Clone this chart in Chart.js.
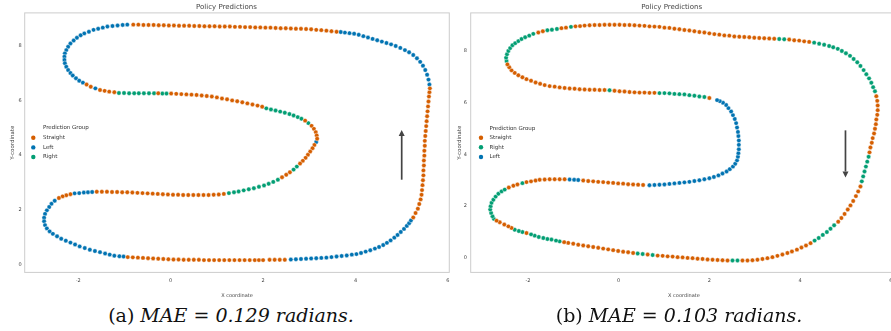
<!DOCTYPE html>
<html>
<head>
<meta charset="utf-8">
<script src="https://cdn.jsdelivr.net/npm/chart.js@4.4.1/dist/chart.umd.min.js"></script>
<style>
  body { margin: 0; width: 891px; height: 331px; overflow: hidden; background: #fff; position: relative; }
  .box { position: absolute; top: 0; width: 455px; height: 300px; }
  .cap { position: absolute; top: 305px; text-align: center; font-family: "DejaVu Serif", serif; font-size: 19px; line-height: 21px; color: #111; }
  .cap i { font-style: italic; }
</style>
</head>
<body>
<div class="box" style="left:0"><canvas id="chartA" width="455" height="300"></canvas></div>
<div class="box" style="left:445px"><canvas id="chartB" width="455" height="300"></canvas></div>
<div class="cap" style="left:0;width:462px">(a) <i>MAE = 0.129 radians.</i></div>
<div class="cap" style="left:467px;width:424px">(b) <i>MAE = 0.103 radians.</i></div>
<script>
// tick labels
const ticksX = [-2, 0, 2, 4, 6];
const ticksY = [0, 2, 4, 6, 8];

// legend order of each panel
const groupsA = ["Straight", "Left", "Right"];
const groupsB = ["Straight", "Right", "Left"];

// arrow: x, y of tail, y of tip (data units)
const arrowA = [5, 3.1, 4.92];
const arrowB = [5, 4.93, 3.11];

// ---- panel (a): points ----
const straightA = [
  [-0.93,0.27],[-0.82,0.26],[-0.71,0.25],[-0.60,0.24],[-0.49,0.23],[-0.38,0.22],[-0.27,0.21],[-0.16,0.20],[-0.05,0.19],[0.06,0.18],
  [0.17,0.18],[0.28,0.17],[0.39,0.17],[0.50,0.17],[0.61,0.17],[0.72,0.16],[0.83,0.16],[0.94,0.16],[1.05,0.16],[1.16,0.16],
  [1.27,0.16],[1.38,0.16],[1.49,0.16],[1.60,0.16],[1.71,0.16],[1.82,0.16],[1.91,0.16],[2.00,0.16],[2.14,0.17],[2.25,0.17],
  [2.36,0.17],[2.47,0.17],
  [5.25,1.72],[5.30,1.88],[5.35,2.04],[5.38,2.21],[5.41,2.38],[5.43,2.55],[5.44,2.72],[5.45,2.90],[5.46,3.08],[5.47,3.26],
  [5.47,3.44],[5.48,3.62],[5.48,3.80],[5.49,3.98],[5.49,4.16],[5.50,4.34],[5.50,4.52],[5.51,4.70],[5.52,4.88],[5.53,5.06],
  [5.54,5.24],[5.55,5.42],[5.56,5.60],[5.57,5.78],[5.58,5.96],[5.59,6.14],[5.60,6.30],[5.61,6.44],
  [3.59,8.51],[3.48,8.53],[3.37,8.55],[3.26,8.57],[3.15,8.58],[3.04,8.60],[2.93,8.61],[2.82,8.62],[2.71,8.62],[2.60,8.63],
  [2.49,8.64],[2.38,8.64],[2.27,8.65],[2.16,8.66],[2.05,8.66],[1.94,8.67],[1.83,8.67],[1.72,8.68],[1.61,8.68],[1.50,8.69],
  [1.39,8.69],[1.28,8.70],[1.17,8.70],[1.06,8.70],[0.95,8.71],[0.84,8.71],[0.73,8.71],[0.62,8.72],[0.51,8.72],[0.40,8.73],
  [0.29,8.73],[0.18,8.73],[0.07,8.74],[-0.04,8.74],[-0.15,8.75],[-0.26,8.75],[-0.37,8.76],[-0.48,8.76],[-0.59,8.76],[-0.70,8.77],
  [-0.81,8.77],
  [-1.82,6.58],[-1.73,6.50],
  [-1.53,6.38],[-1.43,6.35],[-1.33,6.32],[-1.22,6.30],[-0.27,6.26],
  [0.01,6.25],[0.12,6.24],[0.23,6.23],[0.34,6.22],[0.45,6.21],[0.56,6.20],[0.67,6.18],[0.78,6.16],[0.89,6.14],[1.00,6.11],
  [1.11,6.07],[1.22,6.04],[1.33,6.00],[1.44,5.97],[1.55,5.93],[1.66,5.89],[1.77,5.85],[1.88,5.81],[1.98,5.77],
  [2.91,5.26],[3.05,5.07],[3.10,4.96],[3.14,4.84],[3.16,4.72],[3.17,4.60],
  [3.11,4.37],[3.07,4.25],[3.02,4.13],[2.97,4.01],[2.92,3.90],[2.86,3.79],[2.80,3.69],
  [2.58,3.37],[2.50,3.28],[2.41,3.19],
  [1.15,2.58],[1.04,2.56],[0.93,2.55],[0.82,2.54],[0.71,2.54],[0.60,2.54],[0.49,2.54],[0.38,2.54],[0.27,2.54],[0.16,2.55],
  [0.05,2.55],[-0.06,2.56],[-0.17,2.57],[-0.28,2.58],[-0.39,2.59],[-0.50,2.60],[-0.61,2.61],[-0.72,2.62],[-0.83,2.63],[-0.94,2.64],
  [-1.05,2.64],[-1.16,2.65],[-1.27,2.65],[-1.38,2.66],[-1.49,2.66],[-1.60,2.66],
  [-2.17,2.57],[-2.26,2.53],[-2.34,2.49],[-2.42,2.43]
];
const leftA = [
  [-2.51,2.33],[-2.58,2.22],[-2.63,2.10],[-2.68,1.98],[-2.72,1.85],[-2.74,1.71],[-2.74,1.58],[-2.72,1.44],[-2.68,1.32],[-2.62,1.21],
  [-2.55,1.12],[-2.46,1.03],[-2.37,0.94],[-2.27,0.87],[-2.17,0.80],[-2.07,0.73],[-1.97,0.66],[-1.86,0.60],[-1.75,0.54],[-1.64,0.49],
  [-1.53,0.45],[-1.42,0.40],[-1.32,0.36],[-1.22,0.32],[-1.11,0.30],[-1.02,0.29],
  [-2.08,2.60],[-1.98,2.61],[-1.88,2.63],[-1.79,2.64],[-1.70,2.65],
  [3.15,4.48],
  [2.60,0.18],[2.71,0.19],[2.82,0.20],[2.93,0.21],[3.04,0.22],[3.15,0.23],[3.26,0.24],[3.37,0.25],[3.48,0.27],[3.59,0.29],
  [3.70,0.31],[3.81,0.33],[3.92,0.36],[4.02,0.38],[4.12,0.42],[4.22,0.47],[4.32,0.52],[4.42,0.58],[4.51,0.64],[4.60,0.71],
  [4.68,0.79],[4.76,0.88],[4.84,0.98],[4.91,1.08],[4.98,1.19],[5.05,1.30],[5.11,1.41],[5.16,1.51],[5.20,1.61],
  [5.60,6.58],[5.58,6.76],[5.55,6.94],[5.51,7.11],[5.46,7.27],[5.40,7.41],[5.33,7.54],[5.25,7.66],[5.16,7.76],[5.07,7.84],
  [4.97,7.92],[4.87,7.99],[4.77,8.05],[4.67,8.10],[4.57,8.15],[4.47,8.20],[4.37,8.25],[4.27,8.30],[4.17,8.35],[4.07,8.40],
  [3.97,8.44],[3.87,8.46],[3.77,8.48],[3.68,8.50],
  [-0.94,8.77],[-1.04,8.76],[-1.15,8.74],[-1.26,8.72],[-1.37,8.70],[-1.47,8.66],[-1.57,8.62],[-1.67,8.58],[-1.77,8.51],[-1.87,8.45],
  [-1.95,8.38],[-2.03,8.29],[-2.10,8.19],[-2.17,8.08],[-2.22,7.96],[-2.26,7.84],[-2.29,7.72],[-2.30,7.60],[-2.30,7.48],[-2.29,7.36],
  [-2.26,7.23],[-2.22,7.11],[-2.17,7.00],[-2.12,6.91],[-2.05,6.81],[-1.98,6.72],[-1.90,6.65],[-1.63,6.44]
];
const rightA = [
  [-1.12,6.27],[-1.01,6.27],[-0.90,6.26],[-0.79,6.26],[-0.69,6.26],[-0.58,6.26],[-0.47,6.26],[-0.36,6.26],[-0.18,6.25],[-0.09,6.25],
  [2.07,5.71],[2.17,5.67],[2.27,5.63],[2.37,5.59],[2.47,5.55],[2.57,5.50],[2.66,5.45],[2.75,5.39],[2.83,5.33],[2.98,5.17],
  [2.73,3.58],[2.66,3.47],
  [2.32,3.10],[2.22,3.02],[2.12,2.95],[2.02,2.89],[1.91,2.84],[1.80,2.79],[1.69,2.75],[1.58,2.71],[1.47,2.67],[1.37,2.64],
  [1.26,2.61]
];

// ---- panel (b) ----
const straightB = [
  [2.00,6.18],[0.79,6.38],[0.68,6.38],[0.57,6.39],[0.46,6.39],[0.35,6.40],[0.24,6.41],[0.13,6.43],[0.02,6.44],[-0.09,6.46],
  [-0.31,6.49],[-0.42,6.49],[-0.53,6.50],[-0.64,6.50],[-0.75,6.51],[-0.86,6.52],[-0.97,6.54],[-1.08,6.55],[-1.19,6.57],[-1.30,6.59],
  [-1.41,6.62],[-1.52,6.64],[-1.63,6.68],[-1.73,6.73],[-1.83,6.78],[-1.93,6.85],[-2.03,6.91],[-2.12,6.98],[-2.21,7.06],[-2.29,7.15],
  [-2.36,7.25],[-2.41,7.37],[-2.45,7.48],
  [-1.77,8.71],[-1.67,8.76],[-1.26,8.88],[-1.16,8.90],
  [-0.95,8.95],[-0.85,8.96],[-0.75,8.98],[-0.64,8.99],[-0.53,9.00],[-0.42,9.00],[-0.31,9.01],[-0.20,9.01],[-0.09,9.01],[0.02,9.01],
  [0.13,9.00],[0.24,9.00],[0.35,8.99],[0.46,8.98],[0.57,8.97],[0.68,8.95],[0.79,8.94],[0.90,8.93],[1.01,8.90],[1.12,8.89],
  [1.23,8.86],[1.34,8.84],[1.45,8.81],[1.56,8.79],[1.67,8.76],[1.78,8.73],[1.89,8.71],[2.00,8.68],[2.11,8.65],[2.22,8.63],
  [2.33,8.60],[2.44,8.59],[2.55,8.56],[2.66,8.55],[2.77,8.54],[2.88,8.53],[2.99,8.51],[3.10,8.50],[3.21,8.49],[3.32,8.48],
  [3.43,8.47],[3.76,8.44],[3.87,8.41],[3.98,8.40],[4.09,8.37],[4.20,8.35],
  [5.68,6.25],[5.70,6.07],[5.71,5.89],[5.71,5.71],[5.70,5.53],[5.68,5.35],[5.67,5.17],[5.65,4.99],[5.63,4.81],[5.60,4.63],
  [5.58,4.45],[5.55,4.27],[5.53,4.08],
  [5.33,2.76],[5.28,2.57],[5.23,2.39],[5.17,2.20],[5.11,2.03],[5.05,1.87],[4.98,1.70],[4.91,1.54],[4.84,1.40],
  [4.23,0.57],[4.13,0.48],[4.03,0.40],[3.93,0.32],[3.82,0.25],[3.72,0.19],[3.61,0.13],[3.50,0.08],[3.39,0.03],[3.28,-0.01],
  [3.17,-0.04],[3.06,-0.07],[2.95,-0.09],[2.84,-0.10],[2.73,-0.10],
  [2.40,-0.10],[2.29,-0.09],[2.18,-0.08],[2.07,-0.07],[1.96,-0.06],[1.85,-0.04],[1.74,-0.03],[1.63,-0.01],[1.52,0.00],[1.41,0.02],
  [1.30,0.03],[1.19,0.05],[1.08,0.06],[0.97,0.08],[0.86,0.09],[0.64,0.13],
  [0.32,0.19],[0.21,0.22],[0.10,0.24],[-0.01,0.27],[-0.12,0.30],[-0.23,0.33],[-0.34,0.36],[-0.45,0.39],[-0.56,0.42],[-0.67,0.45],
  [-0.78,0.48],[-0.89,0.51],[-1.00,0.55],[-1.11,0.58],[-1.20,0.61],
  [-2.03,0.96],[-2.36,1.16],[-2.43,1.22],[-2.52,1.29],[-2.62,1.38],[-2.69,1.44],
  [-2.42,2.72],[-2.32,2.79],[-2.23,2.84],
  [-2.03,2.93],[-1.93,2.96],[-1.83,2.99],[-1.74,3.02],[-1.63,3.03],[-1.52,3.04],[-1.41,3.04],[-1.30,3.04],[-1.19,3.04],
  [-0.78,2.99],[-0.67,2.97],[-0.56,2.96],[-0.45,2.94],[-0.34,2.93],[-0.23,2.91],[-0.12,2.90],[-0.01,2.88],[0.10,2.87],[0.21,2.85],
  [0.32,2.84],[0.43,2.83],[0.54,2.82]
];
const rightB = [
  [1.89,6.22],[1.78,6.24],[1.67,6.27],[1.56,6.29],[1.45,6.32],[1.34,6.33],[1.23,6.34],[1.12,6.36],[1.01,6.37],[0.90,6.37],
  [-0.20,6.48],
  [-2.47,7.61],[-2.48,7.74],[-2.46,7.87],[-2.43,8.00],[-2.39,8.11],[-2.34,8.22],[-2.28,8.30],[-2.21,8.38],[-2.14,8.46],[-2.06,8.53],
  [-1.97,8.59],[-1.88,8.66],[-1.57,8.80],[-1.47,8.82],[-1.36,8.85],[-1.05,8.93],
  [3.54,8.46],[3.65,8.45],
  [4.31,8.32],[4.42,8.28],[4.53,8.24],[4.64,8.19],[4.73,8.14],[4.83,8.08],[4.92,8.00],[5.01,7.91],[5.10,7.81],[5.18,7.69],
  [5.26,7.56],[5.33,7.42],[5.40,7.26],[5.46,7.10],[5.52,6.94],[5.57,6.77],[5.61,6.60],[5.65,6.44],
  [5.51,3.91],[5.48,3.72],[5.45,3.53],[5.42,3.34],[5.39,3.15],[5.36,2.96],
  [4.75,1.26],[4.67,1.13],[4.59,1.00],[4.50,0.89],[4.41,0.77],[4.32,0.67],
  [2.62,-0.10],[2.51,-0.10],[0.75,0.11],[0.53,0.15],[0.42,0.17],
  [-1.30,0.64],[-1.38,0.67],[-1.48,0.71],[-1.57,0.73],[-1.66,0.77],[-1.76,0.81],[-1.85,0.86],[-1.93,0.91],
  [-2.12,1.00],[-2.20,1.04],[-2.29,1.09],
  [-2.75,1.51],[-2.78,1.61],[-2.81,1.74],[-2.83,1.87],[-2.82,2.00],[-2.80,2.13],[-2.76,2.25],[-2.71,2.37],[-2.65,2.48],[-2.58,2.57],
  [-2.51,2.64],[-2.12,2.89]
];
const leftB = [
  [-1.08,3.03],[-0.98,3.02],[-0.89,3.01],
  [0.68,2.81],[0.79,2.82],[0.90,2.83],[1.01,2.84],[1.12,2.86],[1.23,2.88],[1.34,2.90],[1.45,2.92],[1.56,2.94],[1.67,2.97],
  [1.78,3.00],[1.89,3.04],[2.00,3.08],[2.10,3.13],[2.20,3.19],[2.29,3.26],[2.38,3.34],[2.45,3.43],[2.52,3.53],[2.57,3.64],
  [2.61,3.77],[2.63,3.91],[2.64,4.05],[2.65,4.20],[2.65,4.37],[2.65,4.54],[2.64,4.71],[2.63,4.87],[2.61,5.04],[2.59,5.21],
  [2.56,5.37],[2.52,5.52],[2.48,5.66],[2.42,5.79],[2.37,5.91],[2.30,6.00],[2.23,6.06],[2.17,6.10]
];

const COLORS = { Straight: "#d55e00", Left: "#0173b2", Right: "#029e73" };
const FONT = "'DejaVu Sans', sans-serif";

// light grey box round the plot area
const framePlugin = {
  id: "frame",
  beforeDatasetsDraw(chart) {
    const a = chart.chartArea, ctx = chart.ctx;
    ctx.save();
    ctx.strokeStyle = "#cccccc";
    ctx.lineWidth = 1;
    ctx.strokeRect(a.left, a.top, a.right - a.left, a.bottom - a.top);
    ctx.restore();
  }
};

// legend placed at the left, like seaborn's "center left"
const groupLegend = {
  id: "groupLegend",
  afterDraw(chart, args, o) {
    const ctx = chart.ctx;
    ctx.save();
    ctx.font = "5.5px " + FONT;
    ctx.textBaseline = "middle";
    ctx.fillStyle = "#333";
    ctx.fillText("Prediction Group", o.textX, o.rowsY[0]);
    o.groups.forEach((g, i) => {
      const y = o.rowsY[i + 1];
      ctx.beginPath();
      ctx.arc(o.markX, y, 2.2, 0, Math.PI * 2);
      ctx.fillStyle = COLORS[g];
      ctx.fill();
      ctx.fillStyle = "#333";
      ctx.fillText(g, o.textX, y);
    });
    ctx.restore();
  }
};

// direction arrow
const arrowPlugin = {
  id: "arrow",
  afterDatasetsDraw(chart, args, o) {
    const { x, y } = chart.scales;
    const ctx = chart.ctx;
    const px = x.getPixelForValue(o.at[0]);
    const y0 = y.getPixelForValue(o.at[1]);
    const y1 = y.getPixelForValue(o.at[2]);
    const dir = Math.sign(y1 - y0);
    const head = 6;
    ctx.save();
    ctx.strokeStyle = "#444";
    ctx.fillStyle = "#444";
    ctx.lineWidth = 1.7;
    ctx.beginPath();
    ctx.moveTo(px, y0);
    ctx.lineTo(px, y1 - dir * head);
    ctx.stroke();
    ctx.beginPath();
    ctx.moveTo(px, y1);
    ctx.lineTo(px - 3, y1 - dir * head);
    ctx.lineTo(px + 3, y1 - dir * head);
    ctx.closePath();
    ctx.fill();
    ctx.restore();
  }
};

function makeChart(id, series, p) {
  return new Chart(document.getElementById(id), {
    type: "scatter",
    data: {
      datasets: p.groups.map(g => ({
        label: g,
        data: series[g].map(([x, y]) => ({ x, y })),
        backgroundColor: COLORS[g],
        borderColor: "rgba(255,255,255,0.7)",
        borderWidth: 0.6,
        pointRadius: 2.2,
        pointHoverRadius: 2.2
      }))
    },
    options: {
      responsive: false,
      animation: false,
      devicePixelRatio: 1,
      layout: { padding: { left: 0, right: p.rightPad, top: 0, bottom: 0 } },
      plugins: {
        legend: { display: false },
        tooltip: { enabled: false },
        title: {
          display: true,
          text: "Policy Predictions",
          color: "#444",
          font: { family: FONT, size: 7, weight: "normal" },
          padding: { top: 3, bottom: 1.5 }
        },
        groupLegend: p.legend,
        arrow: { at: p.arrow }
      },
      scales: {
        x: {
          type: "linear",
          min: p.xRange[0],
          max: p.xRange[1],
          afterBuildTicks: s => { s.ticks = ticksX.map(v => ({ value: v })); },
          afterFit: s => { s.height = 27.6; },
          grid: { display: false, drawTicks: false, tickLength: 0 },
          border: { display: false },
          ticks: { color: "#444", font: { family: FONT, size: 5 }, padding: 5.5, maxRotation: 0 },
          title: { display: true, text: "X coordinate", color: "#444", font: { family: FONT, size: 5 }, padding: { top: 0, bottom: 1.5 } }
        },
        y: {
          type: "linear",
          min: p.yRange[0],
          max: p.yRange[1],
          afterBuildTicks: s => { s.ticks = ticksY.map(v => ({ value: v })); },
          afterFit: s => { s.width = p.yAxisWidth; },
          grid: { display: false, drawTicks: false, tickLength: 0 },
          border: { display: false },
          ticks: { color: "#444", font: { family: FONT, size: 5 }, padding: p.yTickPad },
          title: { display: true, text: "Y-coordinate", color: "#444", font: { family: FONT, size: 5.5 }, padding: { top: p.yTitlePad, bottom: 0 } }
        }
      }
    },
    plugins: [framePlugin, groupLegend, arrowPlugin]
  });
}

makeChart("chartA", { Straight: straightA, Left: leftA, Right: rightA }, {
  groups: groupsA,
  xRange: [-3.16, 6.03],
  yRange: [-0.29, 9.2],
  yAxisWidth: 24.7,
  yTickPad: 3,
  yTitlePad: 9.7,
  rightPad: 2,
  arrow: arrowA,
  legend: { groups: groupsA, markX: 33.3, textX: 43, rowsY: [128, 137.8, 147.4, 157] }
});

makeChart("chartB", { Straight: straightB, Right: rightB, Left: leftB }, {
  groups: groupsB,
  xRange: [-3.26, 6.14],
  yRange: [-0.56, 9.47],
  yAxisWidth: 25.7,
  yTickPad: 3.7,
  yTitlePad: 11.7,
  rightPad: 1.6,
  arrow: arrowB,
  legend: { groups: groupsB, markX: 36, textX: 44.5, rowsY: [128.3, 137.7, 147.3, 157] }
});
</script>
</body>
</html>
